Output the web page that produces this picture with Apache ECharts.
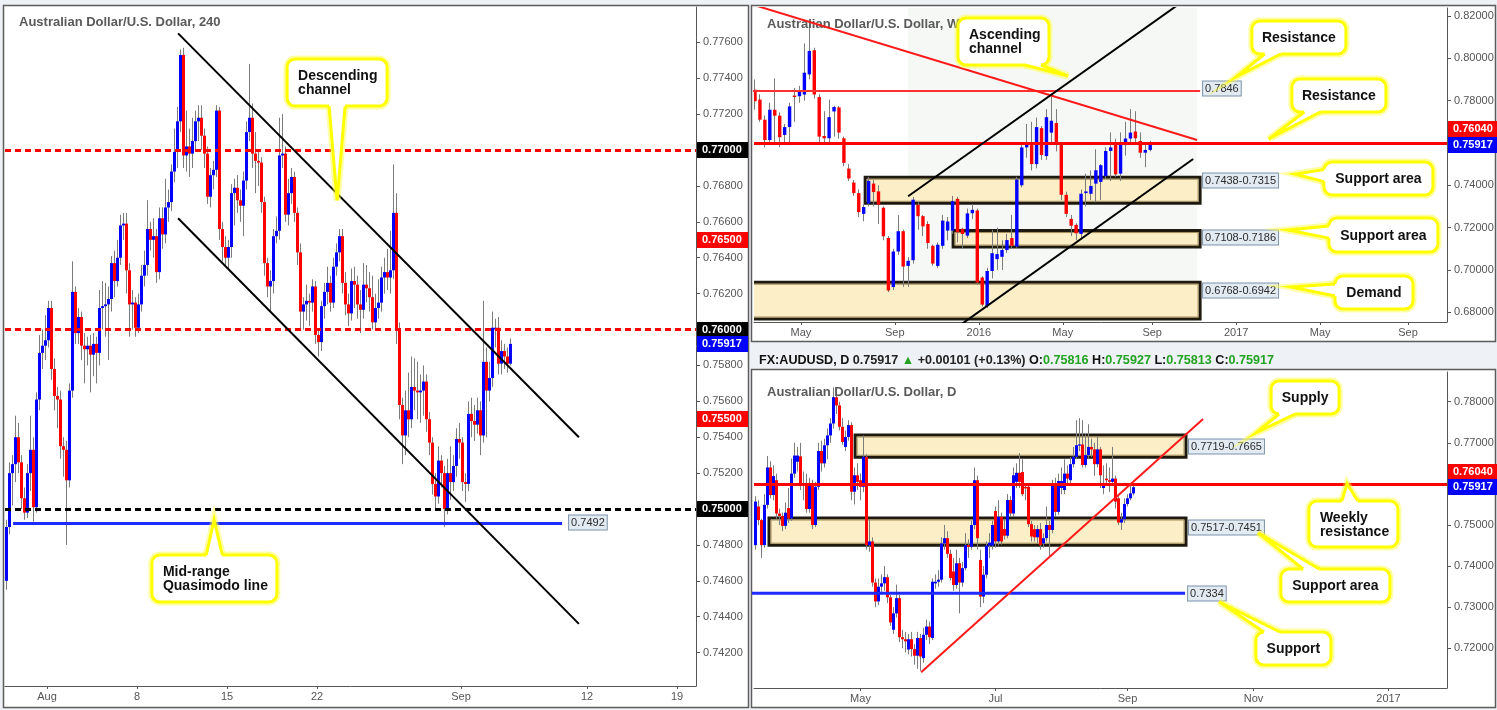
<!DOCTYPE html>
<html>
<head>
<meta charset="utf-8">
<title>AUDUSD</title>
<script src="https://cdn.jsdelivr.net/npm/echarts@6.0.0/dist/echarts.min.js"></script>
<style>
html,body{margin:0;padding:0;background:#eef1f5;overflow:hidden}
#chart{width:1497px;height:710px}
</style>
</head>
<body>
<div id="chart"></div>
<script>
// ================= DATA =================
// 240-minute candles [open, close, low, high]
const h4Candles = [
[0.7460,0.7490,0.7455,0.7494],[0.7490,0.7520,0.7486,0.7526],[0.7520,0.7525,0.7502,0.7530],[0.7525,0.7540,0.7515,0.7552],
[0.7540,0.7526,0.7520,0.7548],[0.7526,0.7506,0.7500,0.7530],[0.7506,0.7498,0.7494,0.7512],[0.7498,0.7520,0.7495,0.7525],
[0.7520,0.7533,0.7510,0.7552],[0.7533,0.7501,0.7493,0.7540],[0.7501,0.7561,0.7498,0.7565],[0.7561,0.7587,0.7555,0.7597],
[0.7587,0.7591,0.7578,0.7600],[0.7591,0.7594,0.7583,0.7608],[0.7594,0.7612,0.7590,0.7616],[0.7612,0.7578,0.7572,0.7616],
[0.7578,0.7563,0.7555,0.7584],[0.7563,0.7561,0.7545,0.7568],[0.7561,0.7535,0.7528,0.7566],[0.7535,0.7533,0.7518,0.7540],
[0.7533,0.7516,0.7480,0.7538],[0.7516,0.7566,0.7512,0.7570],[0.7566,0.7621,0.7562,0.7638],[0.7621,0.7598,0.7592,0.7624],
[0.7598,0.7607,0.7592,0.7612],[0.7607,0.7591,0.7583,0.7610],[0.7591,0.7589,0.7570,0.7598],[0.7589,0.7591,0.7580,0.7596],
[0.7591,0.7586,0.7565,0.7597],[0.7586,0.7592,0.7574,0.7598],[0.7592,0.7587,0.7570,0.7596],[0.7587,0.7612,0.7580,0.7622],
[0.7612,0.7613,0.7600,0.7627],[0.7613,0.7614,0.7596,0.7626],[0.7614,0.7617,0.7583,0.7624],[0.7617,0.7637,0.7610,0.7641],
[0.7637,0.7627,0.7618,0.7644],[0.7627,0.7640,0.7624,0.7650],[0.7640,0.7658,0.7636,0.7664],[0.7658,0.7659,0.7650,0.7665],
[0.7659,0.7633,0.7620,0.7665],[0.7633,0.7614,0.7596,0.7637],[0.7614,0.7615,0.7600,0.7622],[0.7615,0.7601,0.7596,0.7618],
[0.7601,0.7614,0.7598,0.7620],[0.7614,0.7630,0.7610,0.7636],[0.7630,0.7636,0.7624,0.7644],[0.7636,0.7656,0.7630,0.7672],
[0.7656,0.7650,0.7644,0.7660],[0.7650,0.7652,0.7640,0.7662],[0.7652,0.7632,0.7626,0.7656],[0.7632,0.7662,0.7628,0.7668],
[0.7662,0.7653,0.7645,0.7668],[0.7653,0.7668,0.7648,0.7684],[0.7668,0.7671,0.7660,0.7678],[0.7671,0.7688,0.7666,0.7692],
[0.7688,0.7699,0.7682,0.7712],[0.7699,0.7716,0.7690,0.7724],[0.7716,0.7753,0.7710,0.7756],[0.7753,0.7697,0.7690,0.7757],
[0.7697,0.7702,0.7688,0.7722],[0.7702,0.7698,0.7685,0.7712],[0.7698,0.7705,0.7690,0.7718],[0.7705,0.7716,0.7700,0.7722],
[0.7716,0.7718,0.7705,0.7725],[0.7718,0.7708,0.7700,0.7725],[0.7708,0.7698,0.7690,0.7712],[0.7698,0.7674,0.7670,0.7702],
[0.7674,0.7686,0.7668,0.7690],[0.7686,0.7689,0.7678,0.7694],[0.7689,0.7722,0.7685,0.7725],[0.7722,0.7656,0.7650,0.7724],
[0.7656,0.7646,0.7638,0.7660],[0.7646,0.7640,0.7635,0.7652],[0.7640,0.7646,0.7634,0.7650],[0.7646,0.7676,0.7640,0.7681],
[0.7676,0.7679,0.7658,0.7684],[0.7679,0.7672,0.7665,0.7686],[0.7672,0.7669,0.7660,0.7678],[0.7669,0.7683,0.7652,0.7688],
[0.7683,0.7710,0.7678,0.7716],[0.7710,0.7718,0.7705,0.7748],[0.7718,0.7698,0.7690,0.7726],[0.7698,0.7694,0.7676,0.7710],
[0.7694,0.7693,0.7680,0.7700],[0.7693,0.7671,0.7665,0.7696],[0.7671,0.7637,0.7630,0.7674],[0.7637,0.7624,0.7618,0.7640],
[0.7624,0.7627,0.7610,0.7633],[0.7627,0.7652,0.7620,0.7656],[0.7652,0.7655,0.7648,0.7663],[0.7655,0.7697,0.7650,0.7718],
[0.7697,0.7698,0.7690,0.7720],[0.7698,0.7664,0.7660,0.7702],[0.7664,0.7676,0.7658,0.7684],[0.7676,0.7685,0.7670,0.7690],
[0.7685,0.7665,0.7660,0.7688],[0.7665,0.7643,0.7636,0.7668],[0.7643,0.7610,0.7600,0.7648],[0.7610,0.7614,0.7600,0.7618],
[0.7614,0.7616,0.7605,0.7625],[0.7616,0.7615,0.7602,0.7620],[0.7615,0.7624,0.7610,0.7628],[0.7624,0.7597,0.7592,0.7627],
[0.7597,0.7593,0.7585,0.7600],[0.7593,0.7613,0.7588,0.7616],[0.7613,0.7621,0.7606,0.7626],[0.7621,0.7626,0.7614,0.7635],
[0.7626,0.7615,0.7610,0.7630],[0.7615,0.7635,0.7612,0.7640],[0.7635,0.7643,0.7630,0.7648],[0.7643,0.7652,0.7638,0.7656],
[0.7652,0.7626,0.7620,0.7656],[0.7626,0.7614,0.7608,0.7632],[0.7614,0.7609,0.7602,0.7620],[0.7609,0.7627,0.7605,0.7634],
[0.7627,0.7625,0.7612,0.7635],[0.7625,0.7614,0.7606,0.7630],[0.7614,0.7611,0.7598,0.7622],[0.7611,0.7625,0.7606,0.7637],
[0.7625,0.7623,0.7615,0.7636],[0.7623,0.7618,0.7610,0.7632],[0.7618,0.7604,0.7600,0.7630],[0.7604,0.7612,0.7600,0.7620],
[0.7612,0.7615,0.7606,0.7628],[0.7615,0.7629,0.7610,0.7635],[0.7629,0.7632,0.7620,0.7640],[0.7632,0.7629,0.7622,0.7645],
[0.7629,0.7633,0.7620,0.7655],[0.7633,0.7665,0.7628,0.7692],[0.7665,0.7600,0.7592,0.7676],[0.7600,0.7558,0.7550,0.7604],
[0.7558,0.7541,0.7525,0.7562],[0.7541,0.7555,0.7530,0.7566],[0.7555,0.7550,0.7540,0.7576],[0.7550,0.7568,0.7545,0.7585],
[0.7568,0.7566,0.7555,0.7584],[0.7566,0.7565,0.7550,0.7582],[0.7565,0.7566,0.7548,0.7575],[0.7566,0.7571,0.7552,0.7580],
[0.7571,0.7550,0.7543,0.7575],[0.7550,0.7537,0.7530,0.7554],[0.7537,0.7514,0.7508,0.7540],[0.7514,0.7507,0.7500,0.7520],
[0.7507,0.7527,0.7503,0.7535],[0.7527,0.7520,0.7512,0.7530],[0.7520,0.7500,0.7490,0.7524],[0.7500,0.7520,0.7497,0.7528],
[0.7520,0.7515,0.7505,0.7535],[0.7515,0.7524,0.7510,0.7530],[0.7524,0.7539,0.7518,0.7545],[0.7539,0.7537,0.7528,0.7548],
[0.7537,0.7515,0.7510,0.7540],[0.7515,0.7514,0.7504,0.7520],[0.7514,0.7553,0.7510,0.7560],[0.7553,0.7549,0.7540,0.7562],
[0.7549,0.7547,0.7538,0.7558],[0.7547,0.7555,0.7542,0.7562],[0.7555,0.7541,0.7530,0.7560],[0.7541,0.7582,0.7537,0.7616],
[0.7582,0.7566,0.7540,0.7590],[0.7566,0.7573,0.7560,0.7582],[0.7573,0.7601,0.7568,0.7610],[0.7600,0.7601,0.7590,0.7606],
[0.7601,0.7581,0.7575,0.7607],[0.7581,0.7588,0.7575,0.7594],[0.7588,0.7585,0.7578,0.7592],[0.7585,0.7581,0.7576,0.7590],
[0.7581,0.7592,0.7580,0.7595]
];
const h4TickPos = [14.5, 44.5, 74.5, 104.5, 152.5, 194.5, 224.5];
const h4TickLabels = ['Aug', '8', '15', '22', 'Sep', '12', '19'];
const h4YTicks = [0.742,0.744,0.746,0.748,0.750,0.752,0.754,0.756,0.758,0.760,0.762,0.764,0.766,0.768,0.770,0.772,0.774,0.776];
const h4Levels = [0.7700, 0.7650, 0.7600, 0.7550, 0.7500];
const h4LevelText = ['0.77000', '0.76500', '0.76000', '0.75500', '0.75000'];
const h4QMLevel = 0.7492;
const h4QMRange = [3.2, 186.2];
const h4ChannelUpper = [[58.2, 0.7765], [191.8, 0.7540]];
const h4ChannelLower = [[58.2, 0.7662], [191.8, 0.7436]];
const lastPrice = 0.75917;

// Weekly candles [open, close, low, high]
const wCandles = [
[0.7852,0.7797,0.7757,0.7900],[0.7805,0.7710,0.7700,0.7830],[0.7710,0.7614,0.7579,0.7730],[0.7614,0.7757,0.7590,0.7790],
[0.7757,0.7729,0.7598,0.7905],[0.7729,0.7627,0.7580,0.7745],[0.7638,0.7675,0.7590,0.7690],[0.7675,0.7773,0.7590,0.7790],
[0.7824,0.7817,0.7700,0.7860],[0.7821,0.7844,0.7790,0.7870],[0.7829,0.7932,0.7800,0.8070],[0.7924,0.8035,0.7900,0.8165],
[0.8038,0.7829,0.7810,0.8050],[0.7817,0.7630,0.7600,0.7830],[0.7633,0.7622,0.7600,0.7750],[0.7622,0.7722,0.7600,0.7805],
[0.7749,0.7770,0.7630,0.7775],[0.7768,0.7649,0.7620,0.7775],[0.7622,0.7506,0.7490,0.7630],[0.7479,0.7432,0.7420,0.7500],
[0.7413,0.7363,0.7350,0.7425],[0.7363,0.7273,0.7250,0.7380],[0.7265,0.7297,0.7230,0.7310],[0.7313,0.7421,0.7300,0.7440],
[0.7408,0.7368,0.7300,0.7425],[0.7371,0.7308,0.7217,0.7400],[0.7294,0.7159,0.7140,0.7300],[0.7151,0.6903,0.6895,0.7160],
[0.6919,0.7087,0.6905,0.7100],[0.7087,0.7183,0.7070,0.7260],[0.7183,0.7016,0.6920,0.7190],[0.7019,0.7043,0.6920,0.7060],
[0.7046,0.7332,0.7030,0.7345],[0.7308,0.7254,0.7190,0.7320],[0.7254,0.7206,0.7160,0.7260],[0.7217,0.7127,0.7100,0.7230],
[0.7114,0.7030,0.7020,0.7120],[0.7019,0.7119,0.7010,0.7130],[0.7114,0.7233,0.7100,0.7260],[0.7186,0.7229,0.7140,0.7250],
[0.7186,0.7325,0.7170,0.7350],[0.7336,0.7178,0.7130,0.7345],[0.7194,0.7170,0.7100,0.7200],[0.7162,0.7267,0.7150,0.7290],
[0.7268,0.7284,0.7240,0.7310],[0.7281,0.6940,0.6930,0.7290],[0.6964,0.6836,0.6827,0.6970],[0.6829,0.6995,0.6820,0.7010],
[0.6995,0.7079,0.6960,0.7190],[0.7051,0.7075,0.7000,0.7200],[0.7062,0.7094,0.7000,0.7140],[0.7094,0.7141,0.7080,0.7170],
[0.7151,0.7114,0.7100,0.7260],[0.7110,0.7427,0.7105,0.7440],[0.7400,0.7579,0.7390,0.7600],[0.7579,0.7595,0.7530,0.7690],
[0.7590,0.7500,0.7470,0.7700],[0.7500,0.7675,0.7480,0.7720],[0.7670,0.7543,0.7520,0.7680],[0.7538,0.7722,0.7520,0.7760],
[0.7649,0.7705,0.7600,0.7835],[0.7694,0.7595,0.7560,0.7760],[0.7598,0.7355,0.7330,0.7605],[0.7355,0.7265,0.7250,0.7370],
[0.7241,0.7209,0.7160,0.7260],[0.7213,0.7173,0.7140,0.7220],[0.7170,0.7360,0.7150,0.7380],[0.7363,0.7371,0.7300,0.7455],
[0.7360,0.7397,0.7330,0.7470],[0.7408,0.7471,0.7320,0.7570],[0.7416,0.7495,0.7330,0.7500],[0.7443,0.7562,0.7430,0.7580],
[0.7562,0.7579,0.7420,0.7650],[0.7601,0.7452,0.7440,0.7620],[0.7455,0.7601,0.7420,0.7650],[0.7590,0.7621,0.7540,0.7700],
[0.7621,0.7649,0.7600,0.7760],[0.7654,0.7622,0.7590,0.7750],[0.7609,0.7554,0.7530,0.7650],[0.7554,0.7567,0.7485,0.7600],
[0.7567,0.7592,0.7560,0.7610]
];
const wTickPos = [10.3, 29.3, 46.3, 63.3, 81.4, 98.4, 115.4, 133.2];
const wTickLabels = ['May', 'Sep', '2016', 'May', 'Sep', '2017', 'May', 'Sep'];
const wYTicks = [0.68, 0.70, 0.72, 0.74, 0.78, 0.80, 0.82];
const wResistance = 0.7604;
const wUpperRes = 0.7846;
const wUpperResRange = [-5, 91.1];
const wZones = [[23.3, 91.1, 0.7438, 0.7315], [41.1, 91.1, 0.7186, 0.7108], [-5, 91.1, 0.6942, 0.6768]];
const wZoneLabels = ['0.7438-0.7315', '0.7108-0.7186', '0.6768-0.6942'];
const wShade = [[32.0, 90.5, 0.8300, 0.6600]];
const wTrend = [[0.5, 0.8254], [90.5, 0.7614]];
const wChanUpper = [[32.0, 0.7348], [87.0, 0.8259]];
const wChanLower = [[32.0, 0.6564], [89.7, 0.7524]];

// Daily candles [open, close, low, high]
const dCandles = [
[0.7451,0.7557,0.7440,0.7570],[0.7545,0.7512,0.7500,0.7560],[0.7512,0.7451,0.7420,0.7515],[0.7451,0.7549,0.7445,0.7575],
[0.7549,0.7640,0.7540,0.7668],[0.7640,0.7573,0.7565,0.7655],[0.7573,0.7619,0.7560,0.7645],[0.7609,0.7528,0.7515,0.7625],
[0.7528,0.7522,0.7500,0.7540],[0.7522,0.7498,0.7485,0.7530],[0.7498,0.7530,0.7490,0.7555],[0.7541,0.7516,0.7505,0.7590],
[0.7516,0.7625,0.7510,0.7662],[0.7625,0.7669,0.7615,0.7700],[0.7654,0.7669,0.7630,0.7690],[0.7667,0.7597,0.7585,0.7700],
[0.7599,0.7597,0.7560,0.7630],[0.7597,0.7539,0.7530,0.7625],[0.7539,0.7597,0.7530,0.7615],[0.7597,0.7500,0.7490,0.7610],
[0.7500,0.7593,0.7495,0.7605],[0.7593,0.7680,0.7585,0.7700],[0.7680,0.7650,0.7630,0.7705],[0.7650,0.7694,0.7640,0.7710],
[0.7694,0.7718,0.7660,0.7735],[0.7718,0.7747,0.7700,0.7760],[0.7747,0.7811,0.7735,0.7835],[0.7811,0.7791,0.7770,0.7830],
[0.7791,0.7739,0.7730,0.7800],[0.7739,0.7702,0.7695,0.7760],[0.7690,0.7714,0.7680,0.7730],[0.7714,0.7743,0.7705,0.7755],
[0.7743,0.7581,0.7560,0.7750],[0.7581,0.7621,0.7550,0.7640],[0.7621,0.7605,0.7585,0.7650],[0.7609,0.7593,0.7560,0.7625],
[0.7593,0.7666,0.7580,0.7718],[0.7666,0.7451,0.7440,0.7672],[0.7451,0.7460,0.7435,0.7512],[0.7460,0.7360,0.7350,0.7470],
[0.7360,0.7314,0.7300,0.7370],[0.7314,0.7350,0.7305,0.7370],[0.7350,0.7358,0.7330,0.7380],[0.7358,0.7373,0.7340,0.7400],
[0.7373,0.7324,0.7310,0.7380],[0.7324,0.7263,0.7255,0.7330],[0.7245,0.7285,0.7235,0.7300],[0.7285,0.7322,0.7275,0.7355],
[0.7322,0.7227,0.7215,0.7330],[0.7227,0.7222,0.7200,0.7245],[0.7222,0.7217,0.7190,0.7240],[0.7197,0.7222,0.7185,0.7235],
[0.7222,0.7198,0.7180,0.7240],[0.7198,0.7182,0.7160,0.7210],[0.7182,0.7225,0.7150,0.7240],[0.7225,0.7180,0.7145,0.7235],
[0.7176,0.7233,0.7165,0.7250],[0.7233,0.7253,0.7220,0.7270],[0.7253,0.7227,0.7210,0.7265],[0.7225,0.7362,0.7220,0.7370],
[0.7358,0.7362,0.7345,0.7380],[0.7362,0.7367,0.7350,0.7390],[0.7367,0.7455,0.7360,0.7470],[0.7455,0.7468,0.7440,0.7500],
[0.7468,0.7430,0.7420,0.7485],[0.7430,0.7371,0.7365,0.7440],[0.7387,0.7354,0.7340,0.7420],[0.7354,0.7407,0.7345,0.7440],
[0.7407,0.7360,0.7285,0.7420],[0.7360,0.7395,0.7350,0.7410],[0.7395,0.7451,0.7390,0.7480],[0.7451,0.7447,0.7420,0.7465],
[0.7447,0.7500,0.7440,0.7510],[0.7500,0.7609,0.7490,0.7640],[0.7609,0.7468,0.7440,0.7620],[0.7415,0.7326,0.7300,0.7440],
[0.7326,0.7379,0.7310,0.7400],[0.7379,0.7450,0.7370,0.7460],[0.7450,0.7457,0.7420,0.7480],[0.7450,0.7500,0.7440,0.7510],
[0.7534,0.7460,0.7445,0.7545],[0.7460,0.7520,0.7450,0.7560],[0.7520,0.7460,0.7452,0.7530],[0.7490,0.7474,0.7465,0.7515],
[0.7474,0.7561,0.7468,0.7575],[0.7561,0.7528,0.7520,0.7570],[0.7528,0.7621,0.7520,0.7640],[0.7605,0.7627,0.7590,0.7650],
[0.7627,0.7605,0.7590,0.7675],[0.7629,0.7575,0.7570,0.7660],[0.7593,0.7589,0.7560,0.7600],[0.7593,0.7502,0.7495,0.7600],
[0.7502,0.7472,0.7460,0.7510],[0.7490,0.7470,0.7460,0.7500],[0.7470,0.7490,0.7455,0.7500],[0.7490,0.7451,0.7440,0.7505],
[0.7455,0.7468,0.7445,0.7480],[0.7468,0.7500,0.7460,0.7545],[0.7500,0.7488,0.7423,0.7510],[0.7488,0.7595,0.7480,0.7610],
[0.7595,0.7532,0.7520,0.7615],[0.7532,0.7607,0.7525,0.7625],[0.7590,0.7607,0.7575,0.7640],[0.7585,0.7625,0.7575,0.7660],
[0.7625,0.7613,0.7600,0.7645],[0.7609,0.7648,0.7600,0.7665],[0.7648,0.7666,0.7640,0.7690],[0.7666,0.7694,0.7660,0.7755],
[0.7694,0.7696,0.7680,0.7760],[0.7696,0.7646,0.7640,0.7755],[0.7646,0.7670,0.7640,0.7720],[0.7670,0.7690,0.7660,0.7745],
[0.7690,0.7684,0.7665,0.7710],[0.7684,0.7648,0.7620,0.7700],[0.7648,0.7684,0.7640,0.7715],[0.7684,0.7621,0.7590,0.7690],
[0.7590,0.7600,0.7575,0.7645],[0.7613,0.7609,0.7595,0.7650],[0.7609,0.7605,0.7580,0.7640],[0.7605,0.7613,0.7595,0.7690],
[0.7613,0.7557,0.7540,0.7620],[0.7565,0.7506,0.7500,0.7570],[0.7506,0.7514,0.7488,0.7530],[0.7514,0.7551,0.7505,0.7565],
[0.7551,0.7565,0.7545,0.7575],[0.7565,0.7577,0.7560,0.7595],[0.7577,0.7592,0.7572,0.7598]
];
const dTickPos = [36, 81, 125, 167, 212];
const dTickLabels = ['May', 'Jul', 'Sep', 'Nov', '2017'];
const dYTicks = [0.72, 0.73, 0.74, 0.75, 0.77, 0.78];
const dZones = [[34.2, 144.5, 0.7719, 0.7665], [5.5, 144.5, 0.7517, 0.7451]];
const dZoneLabels = ['0.7719-0.7665', '0.7517-0.7451'];
const dSupport = 0.7334;
const dSupportRange = [-5, 144.2];
const dTrend = [[56.2, 0.7142], [150.2, 0.7758]];

// Callout texts and anchors (data coordinates)
const h4CalloutText = ['Descending\nchannel', 'Mid-range\nQuasimodo line'];
const h4CalloutTip = [[111.2, 0.7672], [70.2, 0.7494]];
const wCalloutText = ['Ascending\nchannel', 'Resistance', 'Resistance', 'Support area', 'Support area', 'Demand'];
const wCalloutTip = [[64.4, 0.7916], [98.4, 0.7912], [105.0, 0.7619], [110.3, 0.7453], [108.9, 0.7189], [109.5, 0.6919]];
const dCalloutText = ['Supply', 'Weekly\nresistance', 'Support area', 'Support'];
const dCalloutTip = [[167.8, 0.7724], [198.2, 0.7600], [168.5, 0.7481], [155.5, 0.7313]];

// ================= LAYOUT / STYLE =================
const h4CalloutBox = [[111.2, 0.77376], [70.3, 0.74613]];
const h4CalloutSize = [[100, 47], [125, 47]];
const wCalloutBox = [[51.3, 0.80795], [111.1, 0.80984], [119.2, 0.78243], [127.2, 0.74320], [128.2, 0.71650], [126.3, 0.68933]];
const wCalloutSize = [[91, 47], [94, 33], [94, 33], [109, 33], [109, 34], [78, 33]];
const dCalloutBox = [[184.2, 0.78102], [200.3, 0.75024], [194.3, 0.73528], [180.3, 0.71995]];
const dCalloutSize = [[68, 33], [89, 46], [109, 33], [75, 33]];
const wZoneLabelDy = [3, 6, 8];
const dZoneLabelDy = [11, 9];

const AX = {h4: [0.5, 230.833], w: [0.7976, 141.08], d: [0.5, 231.5]};
const AY = {h4: [0.74014, 0.77797], w: [0.67539, 0.82378], d: [0.71034, 0.78723]};
const FONT = '"Liberation Sans", Arial, sans-serif';
const TAG = {black: '#000000', red: '#ff0000', blue: '#0000ff'};

// ================= HELPERS =================
function toSeries(arr) { return arr.map((c, i) => [i + 1, c[0], c[1], c[2], c[3]]); }

function candleItem(bodyW) {
  return function (params, api) {
    const x = api.value(0), o = api.value(1), c = api.value(2), l = api.value(3), h = api.value(4);
    const pO = api.coord([x, o]), pC = api.coord([x, c]), pL = api.coord([x, l]), pH = api.coord([x, h]);
    const cx = pO[0];
    const wx = Math.floor(cx) + 0.5;
    const top = Math.min(pO[1], pC[1]);
    const hh = Math.max(Math.abs(pO[1] - pC[1]), 1.2);
    const col = c >= o ? '#0000ff' : '#ff0000';
    return {type: 'group', children: [
      {type: 'line', shape: {x1: wx, y1: pH[1], x2: wx, y2: pL[1]}, style: {stroke: '#7c7c7c', lineWidth: 1}},
      {type: 'rect', shape: {x: cx - bodyW / 2, y: top, width: bodyW, height: hh}, style: {fill: col}}
    ]};
  };
}

function zoneItem(labels, dys, shade) {
  return function (params, api) {
    const a = api.coord([api.value(0), api.value(2)]);
    const b = api.coord([api.value(1), api.value(3)]);
    const left = Math.min(a[0], b[0]), right = Math.max(a[0], b[0]);
    const top = Math.min(a[1], b[1]), bottom = Math.max(a[1], b[1]);
    if (shade) {
      return {type: 'rect', shape: {x: left, y: top, width: right - left, height: bottom - top}, style: {fill: '#f6f8f6'}};
    }
    const ch = [
      {type: 'rect', shape: {x: left, y: top, width: right - left, height: bottom - top}, style: {fill: '#fcefc7', stroke: '#1e1a10', lineWidth: 3}},
      {type: 'rect', shape: {x: left + 2, y: top + 2, width: right - left - 4, height: bottom - top - 4}, style: {fill: 'none', stroke: '#a08c5a', lineWidth: 1}}
    ];
    if (labels) {
      ch.push({type: 'text', style: {text: labels[params.dataIndex], x: right + 3, y: Math.round(top + dys[params.dataIndex]) + 0.5,
        align: 'left', verticalAlign: 'middle', font: '11px ' + FONT, fill: '#2b2b2b',
        backgroundColor: '#e2eaf2', borderColor: '#7d93aa', borderWidth: 1, padding: [2, 2, 1, 2]}});
    }
    return {type: 'group', children: ch};
  };
}

function tagItem(tags, xMax) {
  return function (params, api) {
    const t = tags[params.dataIndex];
    const p = api.coord([xMax, t.v]);
    const y = Math.round(p[1] + (t.dy || 0));
    const x = Math.round(p[0]) + 1;
    return {type: 'group', children: [
      {type: 'rect', shape: {x: x, y: y - 8, width: 51, height: 16}, style: {fill: TAG[t.kind]}},
      {type: 'text', style: {text: t.text, x: x + 5, y: y, align: 'left', verticalAlign: 'middle', font: 'bold 11px ' + FONT, fill: '#ffffff'}}
    ]};
  };
}

function endLabelItem(items) {
  return function (params, api) {
    const it = items[params.dataIndex];
    const p = api.coord([it.x, it.v]);
    return {type: 'text', style: {text: it.text, x: p[0] + it.dx, y: Math.round(p[1] + it.dy) + 0.5, align: 'left', verticalAlign: 'middle',
      font: '11px ' + FONT, fill: '#2b2b2b', backgroundColor: '#e2eaf2', borderColor: '#7d93aa', borderWidth: 1, padding: [2, 2, 1, 2]}};
  };
}

function calloutItem(texts, boxes, sizes) {
  return function (params, api) {
    const i = params.dataIndex;
    const tip = api.coord([api.value(0), api.value(1)]);
    const c = api.coord(boxes[i]);
    const w = sizes[i][0], h = sizes[i][1];
    const x0 = c[0] - w / 2, y0 = c[1] - h / 2;
    const dx = tip[0] - c[0], dy = tip[1] - c[1];
    const tx = dx !== 0 ? (w / 2) / Math.abs(dx) : Infinity;
    const ty = dy !== 0 ? (h / 2) / Math.abs(dy) : Infinity;
    const r = 8;
    let b1, b2, in1, in2;
    if (ty <= tx) {
      const hw = 8;
      const ey = dy > 0 ? y0 + h : y0;
      let bx = c[0] + dx * ty;
      bx = Math.max(x0 + r + hw, Math.min(x0 + w - r - hw, bx));
      const s = dy > 0 ? -4 : 4;
      b1 = [bx - hw, ey]; b2 = [bx + hw, ey]; in1 = [bx - hw, ey + s]; in2 = [bx + hw, ey + s];
    } else {
      const hv = 6;
      const ex = dx > 0 ? x0 + w : x0;
      let by = c[1] + dy * tx;
      by = Math.max(y0 + hv + 6, Math.min(y0 + h - hv - 6, by));
      const s = dx > 0 ? -4 : 4;
      b1 = [ex, by - hv]; b2 = [ex, by + hv]; in1 = [ex + s, by - hv]; in2 = [ex + s, by + hv];
    }
    const txt = texts[i];
    const multi = txt.indexOf('\n') >= 0;
    return {type: 'group', children: [
      {type: 'rect', shape: {x: x0, y: y0, width: w, height: h, r: r}, style: {fill: 'none', stroke: 'rgba(255,255,60,0.45)', lineWidth: 7}},
      {type: 'polyline', shape: {points: [b1, tip, b2]}, style: {fill: 'none', stroke: 'rgba(255,255,60,0.45)', lineWidth: 7}},
      {type: 'rect', shape: {x: x0, y: y0, width: w, height: h, r: r}, style: {fill: '#ffffff', stroke: '#ffff00', lineWidth: 3}},
      {type: 'polygon', shape: {points: [in1, b1, tip, b2, in2]}, style: {fill: '#ffffff'}},
      {type: 'polyline', shape: {points: [b1, tip, b2]}, style: {fill: 'none', stroke: '#ffff00', lineWidth: 3}},
      {type: 'text', style: {text: txt, x: multi ? x0 + 11 : c[0], y: c[1] + 1, align: multi ? 'left' : 'center', verticalAlign: 'middle',
        font: 'bold 14px ' + FONT, fill: '#111111', lineHeight: 14}}
    ]};
  };
}

function nearestLabel(pos, labels) {
  return function (v) {
    let best = -1, bd = 1e9;
    for (let i = 0; i < pos.length; i++) { const d = Math.abs(pos[i] - v); if (d < bd) { bd = d; best = i; } }
    return bd < 0.6 ? labels[best] : '';
  };
}

function xAx(grid, ext, pos, labels) {
  return {type: 'value', gridIndex: grid, min: ext[0], max: ext[1],
    axisLine: {show: true, onZero: false, lineStyle: {color: '#555', width: 1}},
    axisTick: {show: true, customValues: pos, length: 3, lineStyle: {color: '#555'}},
    axisLabel: {show: true, customValues: pos, formatter: nearestLabel(pos, labels), color: '#555', fontSize: 11, fontFamily: FONT, margin: 5,
      showMinLabel: true, showMaxLabel: true},
    splitLine: {show: false}};
}
function yAx(grid, ext, ticks) {
  return {type: 'value', gridIndex: grid, position: 'right', min: ext[0], max: ext[1], scale: true,
    axisLine: {show: true, onZero: false, lineStyle: {color: '#555', width: 1}},
    axisTick: {show: true, customValues: ticks, length: 4, lineStyle: {color: '#555'}},
    axisLabel: {show: true, customValues: ticks, formatter: v => v.toFixed(5), color: '#555', fontSize: 11, fontFamily: FONT, margin: 7},
    splitLine: {show: false}};
}
function seg(data, xi, color, width, z) {
  return {type: 'line', xAxisIndex: xi, yAxisIndex: xi, data: data, symbol: 'none', silent: true, clip: true,
    lineStyle: {color: color, width: width}, z: z || 5, animation: false};
}

// ================= OPTION =================
const h4Tags = h4Levels.map((v, i) => ({v: v, text: h4LevelText[i], kind: i % 2 ? 'red' : 'black'}))
  .concat([{v: lastPrice, text: lastPrice.toFixed(5), kind: 'blue'}]);
const wTags = [{v: wResistance, text: '0.76040', kind: 'red', dy: -13}, {v: lastPrice, text: lastPrice.toFixed(5), kind: 'blue'}];
const dTags = [{v: wResistance, text: '0.76040', kind: 'red', dy: -10}, {v: lastPrice, text: lastPrice.toFixed(5), kind: 'blue'}];

const h4EndLabels = [{x: h4QMRange[1], v: h4QMLevel, text: h4QMLevel.toFixed(4), dx: 7, dy: -1}];
const wEndLabels = [{x: wUpperResRange[1], v: wUpperRes, text: wUpperRes.toFixed(4), dx: 3, dy: -3}];
const dEndLabels = [{x: dSupportRange[1], v: dSupport, text: dSupport.toFixed(4), dx: 3, dy: 0}];

const h4LevelLines = seg(h4ChannelUpper, 0, '#000', 2, 6);
h4LevelLines.markLine = {silent: true, symbol: ['none', 'none'], animation: false, label: {show: false},
  data: h4Levels.map((v, i) => ({yAxis: v, lineStyle: {color: i % 2 ? '#ff0000' : '#000000', width: 3, type: [6, 4]}}))};

const wTrendLine = seg(wTrend, 1, '#ff1a1a', 2, 6);
wTrendLine.markLine = {silent: true, symbol: ['none', 'none'], animation: false, label: {show: false},
  data: [{yAxis: wResistance, lineStyle: {color: '#ff0000', width: 3, type: 'solid'}}]};
const dTrendLine = seg(dTrend, 2, '#ff1a1a', 2, 6);
dTrendLine.markLine = {silent: true, symbol: ['none', 'none'], animation: false, label: {show: false},
  data: [{yAxis: wResistance, lineStyle: {color: '#ff0000', width: 3, type: 'solid'}}]};

function custom(xi, render, data, z, clip) {
  return {type: 'custom', xAxisIndex: xi, yAxisIndex: xi, renderItem: render, data: data, z: z, clip: clip, silent: true, animation: false};
}

const HF = 12.6;
const option = {
  backgroundColor: '#eef1f5',
  animation: false,
  graphic: [
    {type: 'rect', z: -10, silent: true, shape: {x: 3.5, y: 5.5, width: 745, height: 702}, style: {fill: '#ffffff', stroke: '#5c5c5c', lineWidth: 1.5}},
    {type: 'rect', z: -10, silent: true, shape: {x: 751.5, y: 5.5, width: 744, height: 336}, style: {fill: '#ffffff', stroke: '#5c5c5c', lineWidth: 1.5}},
    {type: 'rect', z: -10, silent: true, shape: {x: 751.5, y: 369.5, width: 744, height: 338}, style: {fill: '#ffffff', stroke: '#5c5c5c', lineWidth: 1.5}}
  ],
  title: [
    {text: 'Australian Dollar/U.S. Dollar, 240', left: 14, top: 11, textStyle: {fontFamily: FONT, fontWeight: 'bold', fontSize: 13, color: '#5a5a5a'}},
    {text: 'Australian Dollar/U.S. Dollar, W', left: 762, top: 13, textStyle: {fontFamily: FONT, fontWeight: 'bold', fontSize: 13, color: '#5a5a5a'}},
    {text: 'Australian Dollar/U.S. Dollar, D', left: 762, top: 381, textStyle: {fontFamily: FONT, fontWeight: 'bold', fontSize: 13, color: '#5a5a5a'}},
    {text: '{b|FX:AUDUSD, D} {n|0.75917} {g|▲} {n|+0.00101 (+0.13%)} {b|O:}{g|0.75816} {b|H:}{g|0.75927} {b|L:}{g|0.75813} {b|C:}{g|0.75917}',
      left: 754, top: 349, textStyle: {fontFamily: FONT, fontSize: HF, rich: {
        b: {fontFamily: FONT, fontSize: HF, fontWeight: 'bold', color: '#111'},
        n: {fontFamily: FONT, fontSize: HF, color: '#222'},
        g: {fontFamily: FONT, fontSize: HF, color: '#22a322'}}}}
  ],
  grid: [
    {left: 5, top: 7, width: 691, height: 679},
    {left: 754, top: 8, width: 693, height: 314},
    {left: 754, top: 372, width: 693, height: 316}
  ],
  xAxis: [xAx(0, AX.h4, h4TickPos, h4TickLabels), xAx(1, AX.w, wTickPos, wTickLabels), xAx(2, AX.d, dTickPos, dTickLabels)],
  yAxis: [yAx(0, AY.h4, h4YTicks), yAx(1, AY.w, wYTicks), yAx(2, AY.d, dYTicks)],
  series: [
    // ---- 240 panel ----
    custom(0, candleItem(3), toSeries(h4Candles), 3, true),
    h4LevelLines,
    seg(h4ChannelLower, 0, '#000', 2, 6),
    seg([[h4QMRange[0], h4QMLevel], [h4QMRange[1], h4QMLevel]], 0, '#1d2bff', 3, 5),
    custom(0, endLabelItem(h4EndLabels), h4EndLabels.map(e => [e.x, e.v]), 8, false),
    custom(0, tagItem(h4Tags, AX.h4[1]), h4Tags.map(t => [AX.h4[1], t.v]), 9, false),
    custom(0, calloutItem(h4CalloutText, h4CalloutBox, h4CalloutSize), h4CalloutTip, 10, false),
    // ---- weekly panel ----
    custom(1, zoneItem(null, null, true), wShade, 1, true),
    custom(1, zoneItem(wZoneLabels, wZoneLabelDy, false), wZones, 2, true),
    custom(1, candleItem(3.4), toSeries(wCandles), 3, true),
    seg([[wUpperResRange[0], wUpperRes], [wUpperResRange[1], wUpperRes]], 1, '#ff3030', 2, 5),
    wTrendLine,
    seg(wChanUpper, 1, '#000', 2, 6),
    seg(wChanLower, 1, '#000', 2, 6),
    custom(1, endLabelItem(wEndLabels), wEndLabels.map(e => [e.x, e.v]), 8, false),
    custom(1, tagItem(wTags, AX.w[1]), wTags.map(t => [AX.w[1], t.v]), 9, false),
    custom(1, calloutItem(wCalloutText, wCalloutBox, wCalloutSize), wCalloutTip, 10, false),
    // ---- daily panel ----
    custom(2, zoneItem(dZoneLabels, dZoneLabelDy, false), dZones, 2, true),
    custom(2, candleItem(3), toSeries(dCandles), 3, true),
    seg([[dSupportRange[0], dSupport], [dSupportRange[1], dSupport]], 2, '#1d2bff', 3, 5),
    dTrendLine,
    custom(2, endLabelItem(dEndLabels), dEndLabels.map(e => [e.x, e.v]), 8, false),
    custom(2, tagItem(dTags, AX.d[1]), dTags.map(t => [AX.d[1], t.v]), 9, false),
    custom(2, calloutItem(dCalloutText, dCalloutBox, dCalloutSize), dCalloutTip, 10, false)
  ]
};

const chart = echarts.init(document.getElementById('chart'), null, {renderer: 'canvas', width: 1497, height: 710});
chart.setOption(option);
</script>
</body>
</html>
